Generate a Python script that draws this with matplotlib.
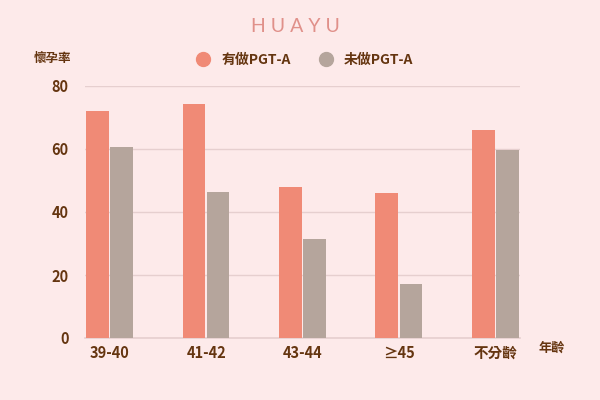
import numpy as np
import matplotlib.pyplot as plt
from matplotlib.lines import Line2D

plt.rcParams['font.family'] = ['Noto Sans CJK TC', 'DejaVu Sans']

categories = ['39-40', '41-42', '43-44', '≥45', '不分齡']
with_pgt = [72, 74.2, 47.8, 46, 66]
without_pgt = [60.7, 46.5, 31.4, 17.2, 59.6]
series_names = ['有做PGT-A', '未做PGT-A']
yticks = [0, 20, 40, 60, 80]

bg = '#fdeaea'
c_orange = '#f08a76'
c_gray = '#b5a59c'
c_text = '#653510'
c_grid = '#e6cfcf'

fig = plt.figure(figsize=(6, 4), dpi=100, facecolor=bg)
ax = fig.add_axes([0.142, 0.155, 0.725, 0.63], facecolor=bg)

x = np.arange(len(categories))
w = 0.235
ax.bar(x - 0.128, with_pgt, w, color=c_orange, zorder=3)
ax.bar(x + 0.122, without_pgt, w, color=c_gray, zorder=3)

ax.set_xlim(-0.255, 4.255)
ax.set_ylim(0, 80)
ax.set_yticks(yticks)
ax.set_xticks(x)
ax.set_xticklabels(categories)
ax.yaxis.grid(True, color=c_grid, lw=1, zorder=0)
for s in ['top', 'right', 'left']:
    ax.spines[s].set_visible(False)
ax.spines['bottom'].set_color(c_grid)
ax.spines['bottom'].set_linewidth(1.2)
ax.tick_params(length=0, labelsize=10.5, labelcolor=c_text)
ax.tick_params(axis='y', pad=12)
ax.tick_params(axis='x', pad=5)
for lab in ax.get_xticklabels() + ax.get_yticklabels():
    lab.set_fontweight('bold')

fig.text(0.492, 0.935, 'H U A Y U', ha='center', va='center', fontsize=14,
         color='#e0908a', family=['Lato', 'DejaVu Sans'])
fig.text(0.087, 0.853, '懷孕率', ha='center', va='center', fontsize=9,
         color=c_text, fontweight='bold')
fig.text(0.92, 0.132, '年齡', ha='center', va='center', fontsize=9.5,
         color=c_text, fontweight='bold')

handles = [Line2D([], [], marker='o', ls='', ms=10, color=c_orange),
           Line2D([], [], marker='o', ls='', ms=10, color=c_gray)]
leg = fig.legend(handles, series_names, loc='center', bbox_to_anchor=(0.502, 0.85),
                 ncol=2, frameon=False, handletextpad=0.3, columnspacing=1.5,
                 prop={'size': 10, 'weight': 'bold'})
for t in leg.get_texts():
    t.set_color(c_text)

fig.savefig('out.png', dpi=100, facecolor=bg)
